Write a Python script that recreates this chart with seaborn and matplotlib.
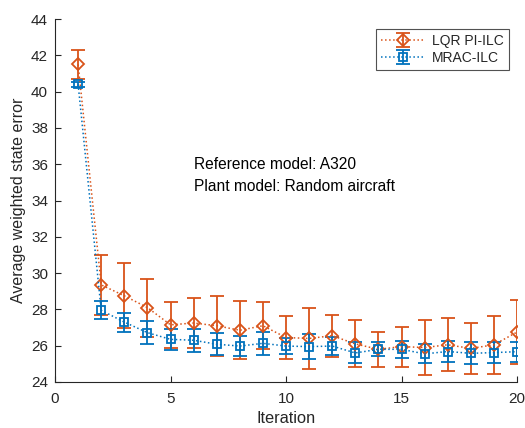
import numpy as np
import pandas as pd
import matplotlib
matplotlib.use("Agg")
import matplotlib.pyplot as plt
import seaborn as sns
from matplotlib.legend_handler import HandlerTuple

# Iteration index
iterations = list(range(1, 21))

# LQR PI-ILC: mean error and standard deviation per iteration
lqr_mean = [41.5, 29.35, 28.75, 28.1, 27.15, 27.25, 27.1, 26.85, 27.1, 26.45,
            26.4, 26.55, 26.1, 25.8, 25.95, 25.9, 26.05, 25.85, 26.05, 26.75]
lqr_std = [0.8, 1.65, 1.8, 1.6, 1.25, 1.4, 1.65, 1.6, 1.3, 1.2,
           1.7, 1.15, 1.3, 0.95, 1.1, 1.5, 1.45, 1.4, 1.6, 1.75]

# MRAC-ILC: mean error and standard deviation per iteration
mrac_mean = [40.4, 27.95, 27.3, 26.72, 26.35, 26.3, 26.08, 25.98, 26.13, 25.98,
             25.95, 25.98, 25.6, 25.8, 25.8, 25.55, 25.68, 25.58, 25.62, 25.67]
mrac_std = [0.12, 0.5, 0.52, 0.63, 0.58, 0.64, 0.62, 0.55, 0.64, 0.45,
            0.68, 0.48, 0.58, 0.38, 0.47, 0.53, 0.6, 0.6, 0.6, 0.55]

series_names = ["LQR PI-ILC", "MRAC-ILC"]
x_ticks = [0, 5, 10, 15, 20]
y_ticks = list(range(24, 45, 2))

sns.set_style("ticks")
plt.rcParams["font.family"] = ["Liberation Sans", "DejaVu Sans"]

orange = "#D95319"
blue = "#0072BD"
axis_col = "#262626"

fig = plt.figure(figsize=(5.25, 4.28), dpi=100)
ax = fig.add_axes([0.1048, 0.1075, 0.88, 0.848])

df = pd.DataFrame({
    "Iteration": iterations * 2,
    "err": lqr_mean + mrac_mean,
    "std": lqr_std + mrac_std,
    "method": [series_names[0]] * 20 + [series_names[1]] * 20,
})

styles = [
    (series_names[0], orange, "D", 6.2),
    (series_names[1], blue, "s", 6.0),
]

handles = []
for name, col, mk, ms in styles:
    sub = df[df["method"] == name]
    eb = ax.errorbar(sub["Iteration"], sub["err"], yerr=sub["std"], fmt="none",
                     ecolor=col, elinewidth=1.3, capsize=5, capthick=1.3, zorder=2)
    sns.lineplot(data=sub, x="Iteration", y="err", ax=ax, color=col,
                 linestyle=":", linewidth=1.1, marker=mk, markersize=ms,
                 markerfacecolor="none", markeredgecolor=col, markeredgewidth=1.3,
                 legend=False, zorder=3)
    line = ax.lines[-1]
    handles.append((eb, line))

ax.set_xlim(0, 20)
ax.set_ylim(24, 44)
ax.set_xticks(x_ticks)
ax.set_yticks(y_ticks)
ax.tick_params(direction="in", length=4, width=0.8, colors=axis_col,
               labelsize=11)
ax.tick_params(axis="x", pad=7)
ax.tick_params(axis="y", pad=5)
for s in ["top", "right"]:
    ax.spines[s].set_visible(False)
for s in ["left", "bottom"]:
    ax.spines[s].set_color(axis_col)
    ax.spines[s].set_linewidth(0.8)

ax.set_xlabel("Iteration", fontsize=11.8, color=axis_col, labelpad=4)
ax.set_ylabel("Average weighted state error", fontsize=11.5, color=axis_col, labelpad=4)

ax.text(6.0, 36.0, "Reference model: A320", fontsize=11.2, color="black", va="center")
ax.text(6.0, 34.8, "Plant model: Random aircraft", fontsize=11.2, color="black", va="center")

leg = ax.legend(handles, series_names, handler_map={tuple: HandlerTuple(ndivide=1)},
                loc="upper right", bbox_to_anchor=(0.982, 0.972), fontsize=10,
                frameon=True, fancybox=False, edgecolor=axis_col, handlelength=3.2,
                borderpad=0.35, labelspacing=0.2, handletextpad=0.5, borderaxespad=0)
leg.get_frame().set_linewidth(0.8)

fig.savefig("out.png", dpi=100)
